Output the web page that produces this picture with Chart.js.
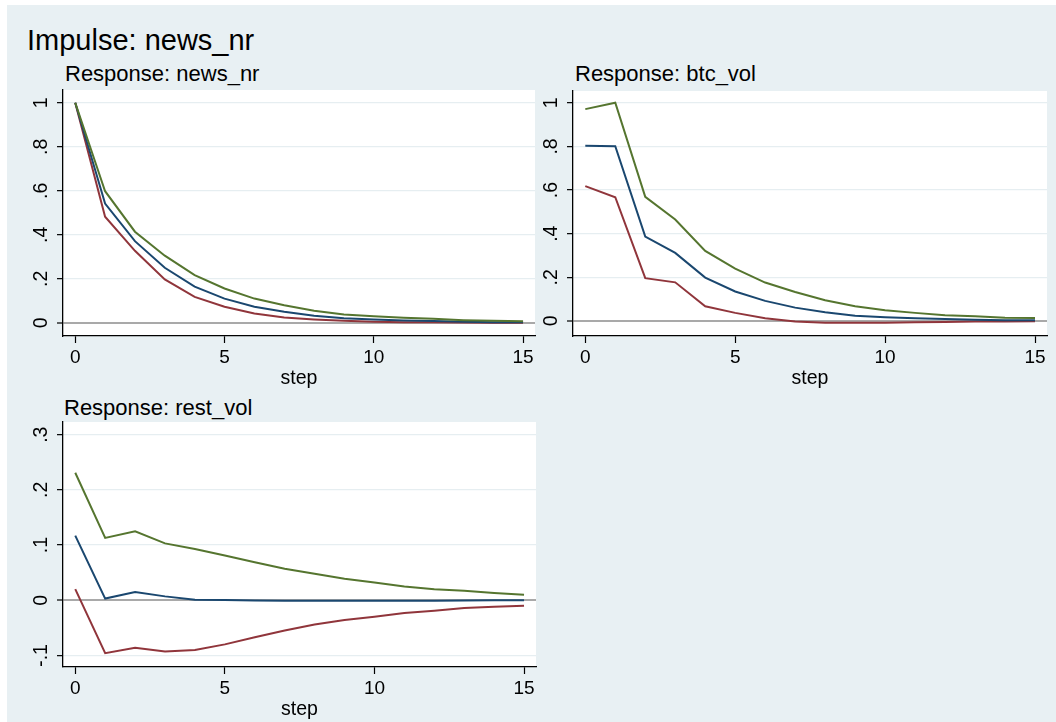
<!DOCTYPE html>
<html>
<head>
<meta charset="utf-8">
<script src="https://cdn.jsdelivr.net/npm/chart.js@4"></script>
<style>
  body { margin:0; width:1056px; height:722px; overflow:hidden; background:#fff; font-family:"Liberation Sans", Arial, sans-serif; }
  #bg { position:absolute; left:7px; top:5px; right:0; bottom:0; background:#e8f0f3; }
  .ttl { position:absolute; color:#000; white-space:nowrap; }
  .box { position:absolute; }
</style>
</head>
<body>
<div id="bg"></div>
<div class="ttl" style="left:27px;top:25.5px;font-size:29px;line-height:29px">Impulse: news_nr</div>
<div class="ttl" style="left:65px;top:63px;font-size:22px;line-height:22px">Response: news_nr</div>
<div class="ttl" style="left:575px;top:63px;font-size:22px;line-height:22px">Response: btc_vol</div>
<div class="ttl" style="left:64px;top:396.5px;font-size:22px;line-height:22px">Response: rest_vol</div>

<div class="box" style="left:20px;top:88px;width:520px;height:306px"><canvas id="c1"></canvas></div>
<div class="box" style="left:530px;top:89px;width:526px;height:305px"><canvas id="c2"></canvas></div>
<div class="box" style="left:20px;top:420px;width:521px;height:305px"><canvas id="c3"></canvas></div>

<script>
// steps
var steps = [0,1,2,3,4,5,6,7,8,9,10,11,12,13,14,15]

// response: news_nr
var newsIrf = [1, .542, .371, .25, .164, .11, .073, .05, .032, .021, .015, .011, .008, .005, .003, .002]
var newsLo  = [1, .482, .327, .197, .118, .073, .042, .024, .015, .009, .005, .003, .002, .001, 0, 0]
var newsHi  = [1, .598, .414, .305, .217, .156, .11, .08, .055, .038, .03, .023, .018, .012, .009, .007]

// response: btc_vol
var btcIrf = [.803, .801, .387, .312, .199, .135, .092, .061, .04, .024, .017, .012, .009, .006, .003, .003]
var btcLo  = [.618, .567, .196, .177, .067, .037, .012, -.003, -.008, -.008, -.008, -.006, -.005, -.003, -.002, -.001]
var btcHi  = [.971, 1.0, .569, .465, .321, .24, .176, .133, .095, .067, .049, .037, .026, .021, .015, .014]

// response: rest_vol
var restIrf = [.117, .003, .015, .007, .001, .0005, -.0005, -.001, -.001, -.001, -.001, -.001, -.001, -.0005, 0, 0]
var restLo  = [.020, -.096, -.086, -.093, -.090, -.080, -.067, -.055, -.044, -.036, -.030, -.023, -.019, -.014, -.012, -.010]
var restHi  = [.231, .113, .125, .103, .093, .081, .069, .057, .048, .039, .032, .025, .020, .017, .013, .010]

// ticks
var xTicks = [0, 5, 10, 15]
var yTicksA = [0, .2, .4, .6, .8, 1]
var yTicksB = [-.1, 0, .1, .2, .3]

var FONT = '"Liberation Sans", Arial, sans-serif'

function fmt(v){
  if (Math.abs(v) < 1e-9) return '0'
  var s = String(+v.toFixed(2))
  return s.replace(/^(-?)0\./, '$1.')
}

// stata-style y labels, turned on their side
var sideLabels = {
  id: 'sideLabels',
  afterDraw: function(chart){
    var s = chart.scales.y, ctx = chart.ctx
    ctx.save()
    ctx.font = '19.5px ' + FONT
    ctx.fillStyle = '#000'
    ctx.textAlign = 'center'
    ctx.textBaseline = 'alphabetic'
    s.ticks.forEach(function(t){
      ctx.save()
      ctx.translate(s.right - 16, s.getPixelForValue(t.value))
      ctx.rotate(-Math.PI/2)
      ctx.fillText(fmt(t.value), 0, 0)
      ctx.restore()
    })
    ctx.restore()
  }
}

function pts(arr){ return steps.map(function(x, i){ return {x: x, y: arr[i]} }) }

function panel(id, irf, lo, hi, yMin, yMax, yTicks, padRight){
  var line = function(d, col){
    return { data: pts(d), borderColor: col, borderWidth: 2, pointRadius: 0, tension: 0, fill: false }
  }
  return new Chart(document.getElementById(id), {
    type: 'line',
    data: { datasets: [ line(hi, '#55752f'), line(irf, '#1a476f'), line(lo, '#90353b') ] },
    options: {
      animation: false,
      responsive: true,
      maintainAspectRatio: false,
      layout: { padding: { top: 2, right: padRight, left: 0, bottom: 0 } },
      plugins: { legend: { display: false }, tooltip: { enabled: false } },
      scales: {
        x: {
          type: 'linear', min: -0.41, max: 15.4,
          afterBuildTicks: function(s){ s.ticks = xTicks.map(function(v){ return {value: v} }) },
          afterFit: function(s){ s.height = 58 },
          grid: { drawOnChartArea: false, drawTicks: true, tickLength: 7, tickColor: '#000', tickWidth: 1.2 },
          border: { display: true, color: '#000', width: 1.3 },
          ticks: { color: '#000', font: { family: FONT, size: 19 }, padding: 3, maxRotation: 0, callback: function(v){ return String(v) } },
          title: { display: true, text: 'step', color: '#000', font: { family: FONT, size: 19.5, lineHeight: 1.2 }, padding: { top: 0, bottom: 4 } }
        },
        y: {
          type: 'linear', min: yMin, max: yMax,
          afterBuildTicks: function(s){ s.ticks = yTicks.map(function(v){ return {value: v} }) },
          afterFit: function(s){ s.width = 43 },
          grid: {
            drawTicks: true, tickLength: 6, tickColor: '#000', tickWidth: 1.2,
            color: function(c){ return (c.tick && Math.abs(c.tick.value) < 1e-9) ? '#a9a9a9' : '#e6eef1' },
            lineWidth: function(c){ return (c.tick && Math.abs(c.tick.value) < 1e-9) ? 2 : 1.3 }
          },
          border: { display: true, color: '#000', width: 1.3 },
          ticks: { display: false }
        }
      }
    },
    plugins: [
      { id: 'white', beforeDraw: function(chart){
          var a = chart.chartArea, ctx = chart.ctx
          ctx.save(); ctx.fillStyle = '#fff'; ctx.fillRect(a.left, a.top, a.right - a.left, a.bottom - a.top); ctx.restore()
      } },
      sideLabels
    ]
  })
}

panel('c1', newsIrf, newsLo, newsHi, -0.06, 1.058, yTicksA, 5)
panel('c2', btcIrf, btcLo, btcHi, -0.069, 1.054, yTicksA, 9)
panel('c3', restIrf, restLo, restHi, -0.121, 0.323, yTicksB, 5)
</script>
</body>
</html>
